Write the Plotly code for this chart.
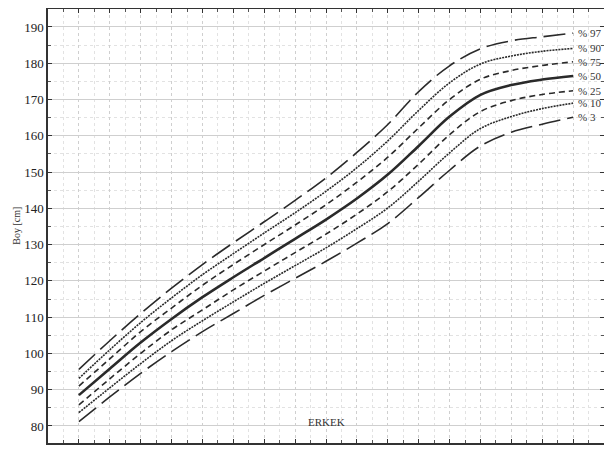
import plotly.graph_objects as go

ages = [2, 3, 4, 5, 6, 7, 8, 9, 10, 11, 12, 13, 14, 15, 16, 17, 18]
p3  = [81.2, 88.0, 94.5, 100.5, 106.0, 111.0, 116.0, 120.7, 125.4, 130.4, 135.8, 143.0, 150.5, 157.2, 161.0, 163.2, 165.1]
p10 = [83.7, 90.5, 97.2, 103.5, 109.0, 114.2, 119.3, 124.2, 129.1, 134.4, 140.1, 147.5, 155.3, 162.0, 165.3, 167.5, 169.0]
p25 = [85.8, 93.0, 100.0, 106.5, 112.0, 117.5, 122.7, 127.8, 132.9, 138.4, 144.6, 152.2, 160.3, 166.7, 169.7, 171.4, 172.4]
p50 = [88.5, 95.8, 103.0, 109.5, 115.5, 121.0, 126.3, 131.6, 136.9, 142.7, 149.3, 157.2, 165.3, 171.3, 174.0, 175.5, 176.5]
p75 = [91.0, 98.5, 106.0, 112.5, 118.8, 124.5, 130.0, 135.4, 141.0, 147.2, 154.1, 162.2, 170.0, 175.6, 178.0, 179.4, 180.4]
p90 = [93.1, 101.0, 108.5, 115.3, 121.7, 127.5, 133.2, 138.8, 144.7, 151.2, 158.6, 167.0, 174.6, 179.8, 182.0, 183.3, 184.1]
p97 = [95.6, 103.5, 111.0, 118.0, 124.5, 130.5, 136.3, 142.2, 148.4, 155.4, 163.1, 172.2, 179.3, 184.0, 186.2, 187.3, 188.3]

series = [
    ("% 97", p97, dict(width=1.6, dash="22px,7px")),
    ("% 90", p90, dict(width=1.6, dash="2px,1px")),
    ("% 75", p75, dict(width=1.6, dash="6px,4px")),
    ("% 50", p50, dict(width=2.6, dash="solid")),
    ("% 25", p25, dict(width=1.6, dash="6px,4px")),
    ("% 10", p10, dict(width=1.6, dash="2px,1px")),
    ("% 3",  p3,  dict(width=1.6, dash="22px,7px")),
]

serif = "Liberation Serif, DejaVu Serif, serif"
fig = go.Figure()
for name, vals, ln in series:
    fig.add_trace(go.Scatter(x=ages, y=vals, mode="lines", name=name,
                             line=dict(color="#2a2a2a", shape="spline", **ln),
                             hoverinfo="skip"))
    fig.add_annotation(x=ages[-1] + 0.08, y=vals[-1], xref="x", yref="y",
                       text=name, showarrow=False, xanchor="left",
                       font=dict(family=serif, size=11, color="#333"))

fig.add_annotation(x=10.0, y=81.1, xref="x", yref="y", text="ERKEK",
                   showarrow=False, font=dict(family=serif, size=11, color="#333"))
fig.add_annotation(x=-0.058, y=0.5, xref="paper", yref="paper", text="Boy [cm]",
                   textangle=-90, showarrow=False, xanchor="center",
                   font=dict(family=serif, size=10, color="#333"))

fig.update_layout(
    width=604, height=442,
    margin=dict(l=40, r=8, t=1, b=7, autoexpand=False),
    paper_bgcolor="white", plot_bgcolor="white",
    showlegend=False,
    xaxis=dict(range=[1, 19], dtick=1, tick0=1, showticklabels=False, automargin=False,
               ticks="inside", ticklen=4, tickcolor="#333",
               showline=True, linecolor="#333", linewidth=1.5, mirror="allticks",
               showgrid=True, gridcolor="#cfcfcf", griddash="dot", gridwidth=1,
               zeroline=False,
               minor=dict(dtick=0.5, ticks="inside", ticklen=3, tickcolor="#555",
                          showgrid=True, gridcolor="#e2e2e2", griddash="dot")),
    yaxis=dict(range=[75.3, 194.96], dtick=10, tick0=80, automargin=False,
               ticks="inside", ticklen=4, tickcolor="#333",
               showline=True, linecolor="#333", linewidth=1.5, mirror="allticks",
               showgrid=True, gridcolor="#cfcfcf", griddash="solid", gridwidth=1,
               zeroline=False,
               tickfont=dict(family=serif, size=13, color="#222"),
               minor=dict(dtick=5, ticks="inside", ticklen=3, tickcolor="#555",
                          showgrid=True, gridcolor="#e2e2e2", griddash="dot")),
)

fig.write_html("out.html")
